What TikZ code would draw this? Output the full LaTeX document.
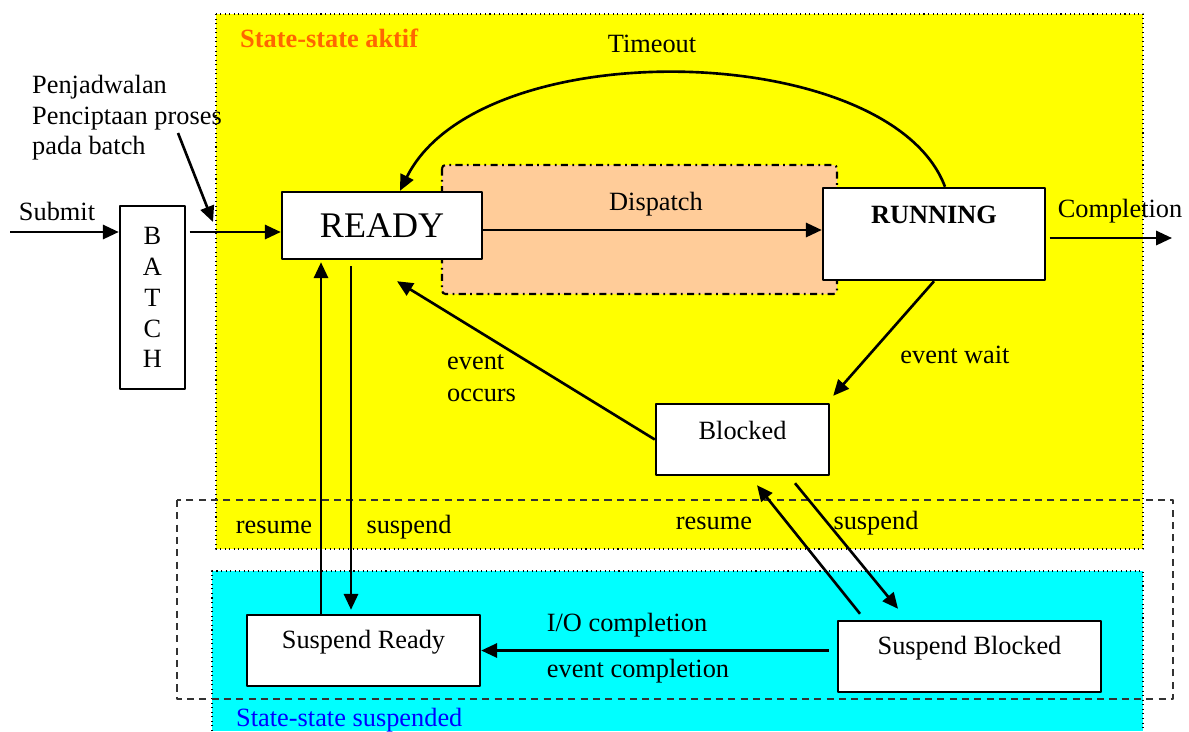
\documentclass[tikz,border=0pt]{standalone}
\usepackage{fontspec}
\setmainfont{Liberation Serif}
\usepackage{xcolor}
\usetikzlibrary{arrows.meta}

\definecolor{aktif}{HTML}{FFFF00}
\definecolor{suspended}{HTML}{00FFFF}
\definecolor{dispatchbg}{HTML}{FFCC99}
\definecolor{aktiftext}{HTML}{FF6600}
\newcommand{\diafont}{\fontsize{15}{18}\selectfont}

\begin{document}
\begin{tikzpicture}[x=0.02cm, y=-0.02cm, font=\diafont, line join=round,
    box/.style={draw, fill=white, line width=1.4pt, inner sep=0pt},
    arr/.style={line width=1.5pt, -{Triangle[length=9pt, width=8pt]}},
    toptext/.style={label={[anchor=center, yshift=-0.56cm]north:#1}}]

    \useasboundingbox (0,0) rectangle (1189,731);

    % Regions: active states (yellow), suspended states (cyan)
    \fill[aktif] (216,14) rectangle (1143,549);
    \draw[dotted, line width=0.6pt] (216,14) rectangle (1143,549);
    \fill[suspended] (212,571) rectangle (1143,731);
    \draw[dotted, line width=0.6pt] (212,731) -- (212,571) -- (1143,571) -- (1143,731);
    \draw[line width=1.2pt, fill=dispatchbg, rounded corners=2pt,
          dash pattern=on 4pt off 2.5pt on 1pt off 2.5pt] (442,165) rectangle (837,294);
    \draw[line width=1pt, black!80, dash pattern=on 4pt off 3pt] (177,500) rectangle (1173,699);

    \node[anchor=west, text=aktiftext, font=\diafont\bfseries] (aktiflabel) at (234,38) {State-state aktif};
    \node[anchor=west, text=blue] (suspendlabel) at (230,720) {State-state suspended};

    % States
    \node[box, minimum width=4cm, minimum height=1.34cm, font=\fontsize{20.5}{24}\selectfont] (ready) at (382,225.5) {READY};
    \node[box, minimum width=4.44cm, minimum height=1.84cm, toptext={\textbf{RUNNING}}] (running) at (934,234) {};
    \node[box, minimum width=1.3cm, minimum height=3.66cm, align=center, font=\fontsize{15}{17.6}\selectfont] (batch) at (152.5,297.5) {B\\A\\T\\C\\H};
    \node[box, minimum width=3.46cm, minimum height=1.42cm, toptext=Blocked] (blocked) at (742.5,439.5) {};
    \node[box, minimum width=4.66cm, minimum height=1.42cm, toptext={Suspend Ready}] (sready) at (363.5,650.5) {};
    \node[box, minimum width=5.26cm, minimum height=1.42cm, toptext={Suspend Blocked}] (sblocked) at (969.5,656.5) {};

    % Labels
    \node (submit) at (57,211) {Submit};
    \node[align=left, anchor=west, font=\fontsize{15}{17.3}\selectfont] (penjadwalan) at (26,118) {Penjadwalan\\Penciptaan proses\\pada batch};
    \node (timeout) at (652,44) {Timeout};
    \node (dispatch) at (656,204) {Dispatch};
    \node (completion) at (1120,211) {Completion};
    \node (eventwait) at (955,355) {event wait};
    \node[align=left, anchor=west] (eventoccurs) at (441,378) {event\\occurs};
    \node (resume1) at (274,527) {resume};
    \node (suspend1) at (409,527) {suspend};
    \node (resume2) at (714,523) {resume};
    \node (suspend2) at (876,523) {suspend};
    \node (iocompl) at (627,625) {I/O completion};
    \node (evcompl) at (638,671) {event completion};

    % Entry through batch
    \coordinate (src) at (10,232);
    \draw[arr] (src) -- (src -| batch.west);
    \coordinate (feed) at ([yshift=-0.13cm]ready.west);
    \coordinate (batchout) at (batch.east |- feed);
    \draw[arr] ([xshift=2pt]batchout) -- (feed);
    \coordinate (note) at (178,133);
    \coordinate (notetip) at (213,222);
    \draw[arr] (note) -- (notetip);

    % Dispatch, timeout, completion
    \coordinate (dispfrom) at ([yshift=-0.09cm]ready.east);
    \draw[arr] (dispfrom) -- (dispfrom -| running.west);
    \draw[arr] ([xshift=0.22cm]running.north) .. controls (890,40) and (480,30) .. ([xshift=0.36cm]ready.north);
    \coordinate (done) at (1172,238);
    \coordinate (runout) at (running.east |- done);
    \draw[arr] ([xshift=2pt]runout) -- (done);

    % Blocking
    \draw[arr] (running.south) -- ([xshift=0.06cm, yshift=0.14cm]blocked.north east);
    \draw[arr] (blocked.west) -- ([xshift=0.3cm, yshift=-0.42cm]ready.south);

    % Suspend / resume
    \coordinate (resumeup) at ([xshift=-1.22cm]ready.south);
    \coordinate (suspenddown) at ([xshift=-0.62cm, yshift=-0.12cm]ready.south);
    \coordinate (sreadyin) at (suspenddown |- sready.north);
    \draw[arr] (resumeup |- sready.north) -- ([yshift=-0.04cm]resumeup);
    \draw[arr] (suspenddown) -- ([yshift=0.08cm]sreadyin);
    \draw[arr] ([xshift=-2.19cm, yshift=0.12cm]sblocked.north) -- ([xshift=0.29cm, yshift=-0.18cm]blocked.south);
    \draw[arr] ([xshift=1.05cm, yshift=-0.14cm]blocked.south) -- ([xshift=-1.43cm, yshift=0.22cm]sblocked.north);

    % I/O or event completion while suspended
    \coordinate (sbout) at (sblocked.west |- sready.east);
    \draw[arr] ([xshift=-0.16cm]sbout) -- (sready.east);

\end{tikzpicture}
\end{document}
